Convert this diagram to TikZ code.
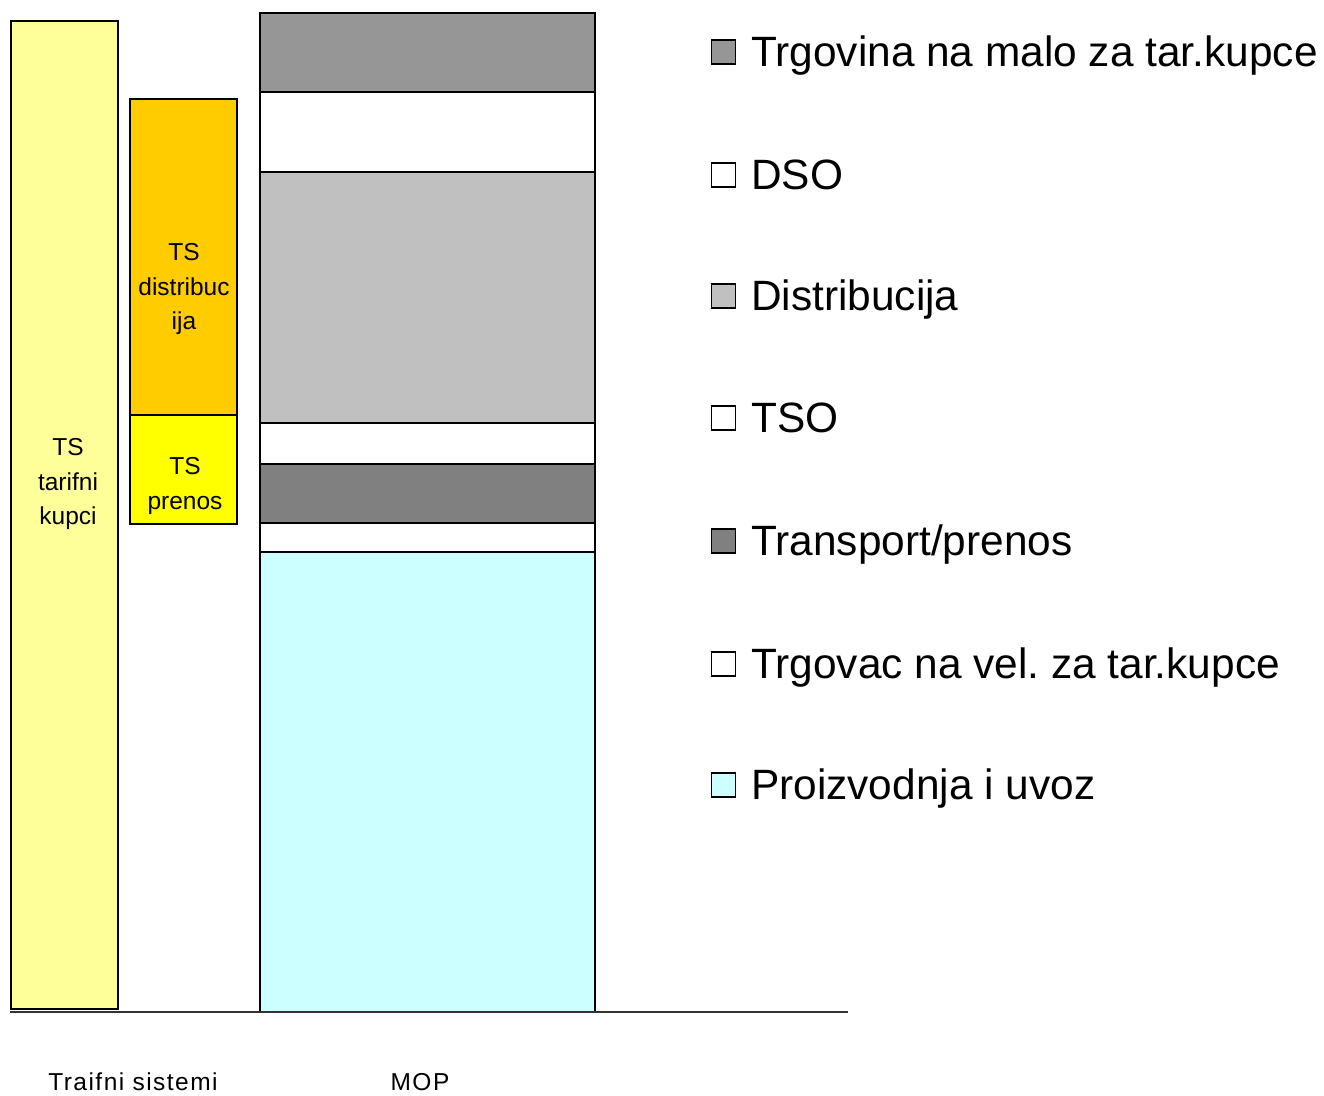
\documentclass[tikz,border=0pt]{standalone}
\usepackage{fontspec}
\setmainfont{Liberation Sans}
\frenchspacing
\definecolor{cLight}{HTML}{FFFF99}
\definecolor{cOrange}{HTML}{FFCC00}
\definecolor{cYellow}{HTML}{FFFF00}
\definecolor{cG1}{HTML}{969696}
\definecolor{cG2}{HTML}{C0C0C0}
\definecolor{cG3}{HTML}{808080}
\definecolor{cCyan}{HTML}{CCFFFF}
\tikzset{
  bar/.style={draw=black, line width=2pt, rectangle, inner sep=0pt},
  barlbl/.style={inner sep=0pt, align=center, font=\fontsize{24.5}{34.5}\selectfont},
  seg/.style={draw=black, line width=2pt, rectangle, inner sep=0pt, minimum width=335pt},
  legsq/.style={draw=black, line width=1.6pt, rectangle, inner sep=0pt, minimum size=24pt},
  legtxt/.style={anchor=base west, inner sep=0pt, font=\fontsize{42.4}{45}\selectfont},
  axlbl/.style={inner sep=0pt, font=\fontsize{24.5}{26}\selectfont\addfontfeature{LetterSpace=6}}
}
\begin{document}
\begin{tikzpicture}[x=1pt,y=-1pt]
\useasboundingbox[fill=white] (0,0) rectangle (1324,1095);
% tariff bars
\node[bar, fill=cLight, minimum width=107pt, minimum height=988pt] (tk) at (64.5,515) {};
\node[bar, fill=cOrange, minimum width=107pt, minimum height=316pt] (td) at (183.5,257) {};
\node[bar, fill=cYellow, minimum width=107pt, minimum height=109pt] (tp) at (183.5,469.5) {};
\node[barlbl] (tkl) at (68,484) {TS\\tarifni\\kupci};
\node[barlbl] (tdl) at (184,289) {TS\\distribuc\\ija};
\node[barlbl] (tpl) at (185,486) {TS\\prenos};
% MOP stack
\node[seg, fill=cG1, minimum height=79pt] (s1) at (427.5,52.5) {};
\node[seg, fill=white, minimum height=80pt] (s2) at (427.5,132) {};
\node[seg, fill=cG2, minimum height=251pt] (s3) at (427.5,297.5) {};
\node[seg, fill=white, minimum height=41pt] (s4) at (427.5,443.5) {};
\node[seg, fill=cG3, minimum height=59pt] (s5) at (427.5,493.5) {};
\node[seg, fill=white, minimum height=29pt] (s6) at (427.5,537.5) {};
\node[seg, fill=cCyan, minimum height=460pt] (s7) at (427.5,782) {};
% axis
\coordinate (axL) at (10,1012);
\coordinate (axR) at (848,1012);
\draw[line width=1.5pt, black!80] (axL) -- (axR);
\node[axlbl] (lt) at (133,1082) {Traifni sistemi};
\node[axlbl] (lm) at (420,1082) {MOP};
% legend
\node[legsq, fill=cG1] (q1) at (723.5,52) {};
\node[legtxt] (t1) at (751,66) {Trgovina na malo za tar.kupce};
\node[legsq, fill=white] (q2) at (723.5,175) {};
\node[legtxt] (t2) at (751,189) {DSO};
\node[legsq, fill=cG2] (q3) at (723.5,296) {};
\node[legtxt] (t3) at (751,310) {Distribucija};
\node[legsq, fill=white] (q4) at (723.5,418) {};
\node[legtxt] (t4) at (751,432) {TSO};
\node[legsq, fill=cG3] (q5) at (723.5,541) {};
\node[legtxt] (t5) at (751,555) {Transport/prenos};
\node[legsq, fill=white] (q6) at (723.5,664) {};
\node[legtxt] (t6) at (751,678) {Trgovac na vel. za tar.kupce};
\node[legsq, fill=cCyan] (q7) at (723.5,785) {};
\node[legtxt] (t7) at (751,799) {Proizvodnja i uvoz};
\end{tikzpicture}
\end{document}
